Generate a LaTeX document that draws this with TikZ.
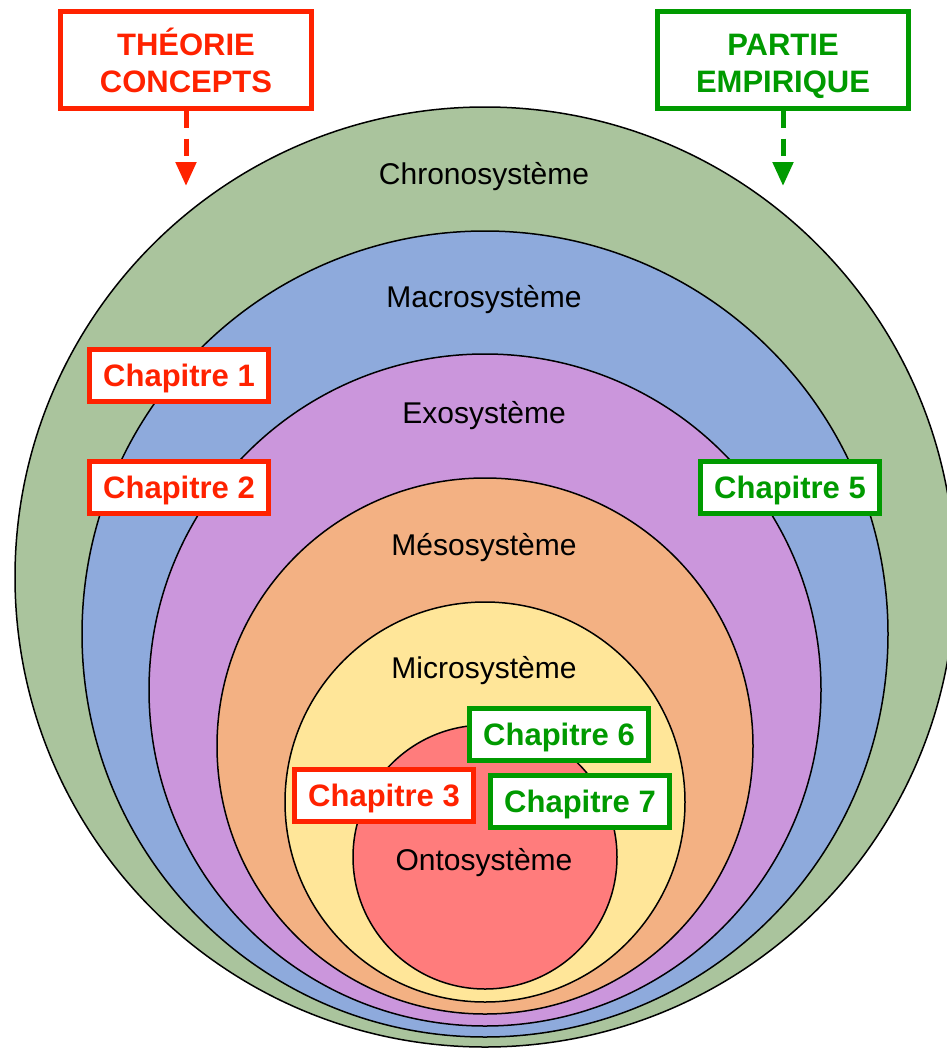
\documentclass[tikz,border=0pt]{standalone}
\usepackage{fontspec}
\setmainfont{Liberation Sans}
\usetikzlibrary{arrows.meta}
\definecolor{cred}{HTML}{FF2200}
\definecolor{cgreen}{HTML}{009A00}
\definecolor{fchrono}{HTML}{AAC49D}
\definecolor{fmacro}{HTML}{8EAADC}
\definecolor{fexo}{HTML}{CB96DC}
\definecolor{fmeso}{HTML}{F3B183}
\definecolor{fmicro}{HTML}{FFE699}
\definecolor{fonto}{HTML}{FF7C7C}
\tikzset{
  ring/.style={draw=black, line width=1.5pt},
  syslabel/.style={font=\fontsize{30}{37}\selectfont, inner sep=0pt},
  chapbox/.style={line width=5pt, fill=white, font=\bfseries\fontsize{31}{37}\selectfont,
    minimum width=179pt, minimum height=52pt, inner sep=0pt,
    text height=24pt, text depth=2pt},
  chapred/.style={chapbox, draw=cred, text=cred},
  chapgreen/.style={chapbox, draw=cgreen, text=cgreen},
  headbox/.style={line width=5pt, fill=white, font=\bfseries\fontsize{31}{37}\selectfont,
    minimum width=251pt, minimum height=96pt, inner sep=0pt, align=center},
  dasharrow/.style={line width=5pt, dash pattern=on 17pt off 11pt,
    -{Triangle[length=24pt, width=20pt]}}
}
\begin{document}
\begin{tikzpicture}[x=1pt, y=-1pt]
\useasboundingbox (0,0) rectangle (947,1049);
\clip (0,0) rectangle (947,1049);
\fill[white] (0,0) rectangle (947,1049);
% nested systems
\draw[ring, fill=fchrono] (485,577) circle[radius=470pt];
\draw[ring, fill=fmacro]  (485,634) circle[radius=403pt];
\draw[ring, fill=fexo]    (485,690) circle[radius=336pt];
\draw[ring, fill=fmeso]   (485,746) circle[radius=268pt];
\draw[ring, fill=fmicro]  (485,802) circle[radius=200pt];
\draw[ring, fill=fonto]   (485,857) circle[radius=132pt];
% labels
\node[syslabel] (chrono) at (484,177) {Chronosystème};
\node[syslabel] (macro)  at (484,300) {Macrosystème};
\node[syslabel] (exo)    at (484,416) {Exosystème};
\node[syslabel] (meso)   at (484,548) {Mésosystème};
\node[syslabel] (micro)  at (484,671) {Microsystème};
\node[syslabel] (onto)   at (484,863) {Ontosystème};
% headers
\node[headbox, draw=cred, text=cred] (theorie) at (186,60) {\rule{0pt}{34pt}THÉORIE\\CONCEPTS\vphantom{Q}};
\node[headbox, draw=cgreen, text=cgreen] (empirique) at (783,60) {\rule{0pt}{34pt}PARTIE\\EMPIRIQUE};
\coordinate (ttip) at (186,186);
\coordinate (etip) at (783,186);
\draw[dasharrow, cred] (theorie.south) -- (ttip);
\draw[dasharrow, cgreen] (empirique.south) -- (etip);
% chapters
\node[chapred]   (ch1) at (179,375) {Chapitre 1};
\node[chapred]   (ch2) at (179,487) {Chapitre 2};
\node[chapgreen] (ch5) at (790,487) {Chapitre 5};
\node[chapgreen] (ch6) at (559,734) {Chapitre 6};
\node[chapred]   (ch3) at (384,795) {Chapitre 3};
\node[chapgreen] (ch7) at (580,801) {Chapitre 7};
\end{tikzpicture}
\end{document}
